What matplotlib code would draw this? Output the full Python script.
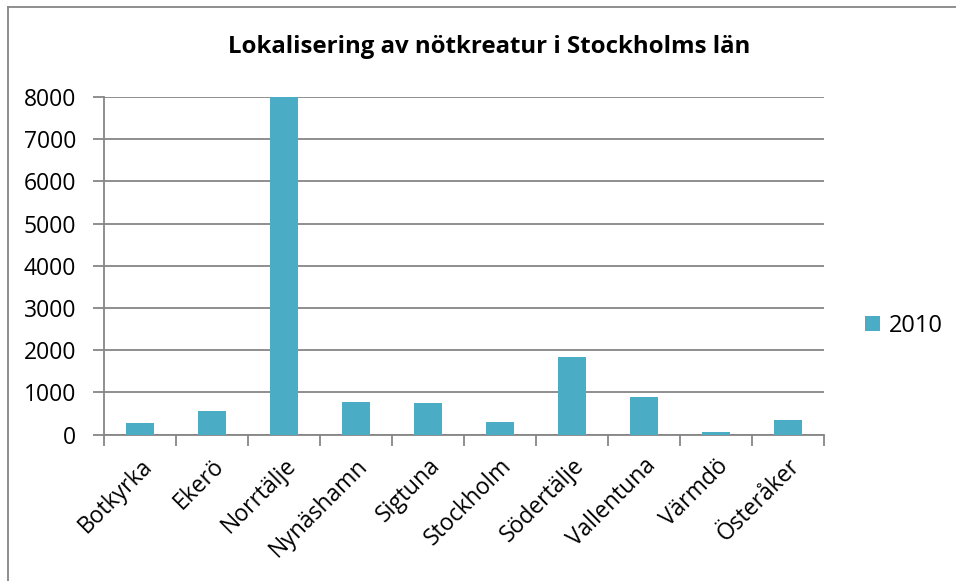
import matplotlib
matplotlib.use("Agg")
import matplotlib.pyplot as plt
from matplotlib.lines import Line2D

kommuner = ["Botkyrka", "Ekerö", "Norrtälje", "Nynäshamn", "Sigtuna",
            "Stockholm", "Södertälje", "Vallentuna", "Värmdö", "Österåker"]
antal_2010 = [264, 555, 8000, 776, 736, 302, 1826, 898, 64, 333]
serie = "2010"
titel = "Lokalisering av nötkreatur i Stockholms län"

plt.rcParams['font.family'] = ['Open Sans', 'DejaVu Sans']

W, H = 956, 581
fig = plt.figure(figsize=(W / 100, H / 100), dpi=100)
ax = fig.add_axes([104 / W, 1 - 434.5 / H, 720 / W, 337.5 / H])

x = list(range(len(kommuner)))
ax.bar(x, antal_2010, width=0.4, color="#4BACC6", zorder=3, label=serie)

ax.set_xlim(-0.5, len(kommuner) - 0.5)
ax.set_ylim(0, 8000)
ax.set_yticks(range(0, 8001, 1000))
ax.yaxis.grid(True, color="#868686", linewidth=1.3, zorder=0)

ax.set_xticks([i - 0.5 for i in range(len(kommuner) + 1)])
ax.set_xticklabels([])
ax.set_xticks(x, minor=True)
ax.set_xticklabels(kommuner, minor=True, rotation=45, ha="right",
                   rotation_mode="anchor", fontsize=16.5)
ax.tick_params(axis="x", which="minor", length=0, pad=14)
ax.tick_params(axis="x", which="major", length=8, width=1.3, color="#868686")
ax.tick_params(axis="y", length=8, width=1.3, color="#868686", labelsize=16.5, pad=12)

for s in ["top", "right"]:
    ax.spines[s].set_visible(False)
for s in ["left", "bottom"]:
    ax.spines[s].set_color("#868686")
    ax.spines[s].set_linewidth(1.3)

fig.text(489 / W, 1 - 47 / H, titel, ha="center", va="center",
         fontsize=17.3, fontweight="bold")

fig.legend(loc="center left", bbox_to_anchor=(856 / W, 1 - 326 / H),
           frameon=False, fontsize=17, handlelength=0.6, handleheight=0.6,
           handletextpad=0.4, borderaxespad=0)

# ram runt diagrammet
fig.add_artist(Line2D([8 / W, 8 / W], [0, 1 - 7 / H], color="#868686",
                      linewidth=1.3, transform=fig.transFigure))
fig.add_artist(Line2D([8 / W, 1], [1 - 7 / H, 1 - 7 / H], color="#868686",
                      linewidth=1.3, transform=fig.transFigure))

fig.savefig("out.png", dpi=100)
